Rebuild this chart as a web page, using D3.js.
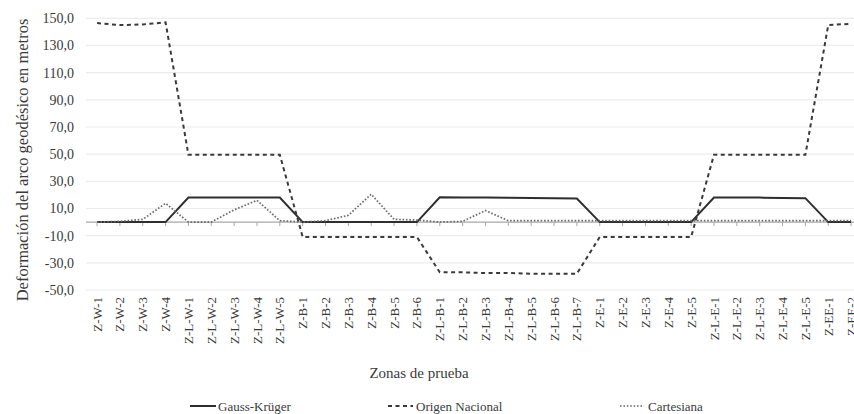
<!DOCTYPE html>
<html>
<head>
<meta charset="utf-8">
<script src="https://cdn.jsdelivr.net/npm/d3@7"></script>
<style>
  html, body { margin: 0; padding: 0; background: #fff; }
  svg { display: block; font-family: "Liberation Serif", "Times New Roman", serif; }
</style>
</head>
<body>
<div id="chart"></div>
<script>
// ---- Data ----
const categories = [
  "Z-W-1","Z-W-2","Z-W-3","Z-W-4",
  "Z-L-W-1","Z-L-W-2","Z-L-W-3","Z-L-W-4","Z-L-W-5",
  "Z-B-1","Z-B-2","Z-B-3","Z-B-4","Z-B-5","Z-B-6",
  "Z-L-B-1","Z-L-B-2","Z-L-B-3","Z-L-B-4","Z-L-B-5","Z-L-B-6","Z-L-B-7",
  "Z-E-1","Z-E-2","Z-E-3","Z-E-4","Z-E-5",
  "Z-L-E-1","Z-L-E-2","Z-L-E-3","Z-L-E-4","Z-L-E-5",
  "Z-EE-1","Z-EE-2"
];
const gaussKruger = [
  0, 0, 0, 0,
  18, 18, 18, 18, 18,
  0, 0, 0, 0, 0, 0,
  18.2, 18.1, 18, 17.9, 17.8, 17.5, 17.4,
  0, 0, 0, 0, 0,
  18, 18, 18, 17.8, 17.6,
  0, 0
];
const origenNacional = [
  146.5, 145, 145.5, 147,
  49.5, 49.5, 49.5, 49.5, 49.5,
  -11, -11, -11, -11, -11, -11,
  -37, -37, -37.5, -37.5, -38, -38, -38,
  -11, -11, -11, -11, -11,
  49.5, 49.5, 49.5, 49.5, 49.5,
  145, 146
];
const cartesiana = [
  0, 0.5, 2, 13.8,
  0, 0, 9, 16, 1,
  0, 1, 5, 20.5, 2, 1.5,
  0, 0.5, 8.5, 1, 1, 1, 1,
  1, 1, 1, 1, 1,
  1, 1, 1, 1, 1,
  1, 1
];
const yTicks = [150, 130, 110, 90, 70, 50, 30, 10, -10, -30, -50];
const seriesNames = ["Gauss-Krüger", "Origen Nacional", "Cartesiana"];

// ---- Layout ----
const W = 854, H = 414;
const svg = d3.select("#chart").append("svg").attr("width", W).attr("height", H);

const x = d3.scalePoint().domain(categories).range([85.6, 862.5]).padding(0.5);
const y = d3.scaleLinear().domain([-50, 150]).range([290, 18.3]);

const textColor = "#3a3a3a";

// gridlines
svg.append("g").selectAll("line").data(yTicks).join("line")
  .attr("x1", 86).attr("x2", W)
  .attr("y1", d => y(d)).attr("y2", d => y(d))
  .attr("stroke", "#ececec").attr("stroke-width", 1.2);

// y axis labels
const fmt = v => d3.format(".1f")(v).replace(".", ",").replace("−", "-");
svg.append("g").selectAll("text").data(yTicks).join("text")
  .attr("x", 74).attr("y", d => y(d)).attr("dy", "0.35em")
  .attr("text-anchor", "end").attr("font-size", 14).attr("fill", textColor)
  .text(d => fmt(d));

// y title
svg.append("text")
  .attr("transform", `translate(22,${(18 + 302) / 2}) rotate(-90)`)
  .attr("text-anchor", "middle").attr("dy", "0.35em")
  .attr("font-size", 16.5).attr("fill", textColor)
  .text("Deformación del arco geodésico  en metros");

// zero axis line
svg.append("line")
  .attr("x1", 86).attr("x2", W).attr("y1", y(0)).attr("y2", y(0))
  .attr("stroke", "#a8a8a8").attr("stroke-width", 1.2);

// category tick marks
svg.append("g").selectAll("line").data(categories).join("line")
  .attr("x1", d => x(d)).attr("x2", d => x(d))
  .attr("y1", y(0)).attr("y2", y(0) + 4)
  .attr("stroke", "#a8a8a8").attr("stroke-width", 1);

// x labels (rotated)
svg.append("g").selectAll("text").data(categories).join("text")
  .attr("transform", d => `translate(${x(d)},297) rotate(-90)`)
  .attr("text-anchor", "end").attr("dy", "0.35em")
  .attr("font-size", 13).attr("fill", textColor)
  .text(d => d);

// x title
svg.append("text")
  .attr("x", 419).attr("y", 373).attr("dy", "0.35em")
  .attr("text-anchor", "middle").attr("font-size", 15).attr("fill", textColor)
  .text("Zonas de prueba");

// series lines
const line = d3.line().x((d, i) => x(categories[i])).y(d => y(d));
const styles = [
  { data: gaussKruger, stroke: "#2e2e2e", width: 2, dash: null },
  { data: origenNacional, stroke: "#3a3a3a", width: 2, dash: "4,3.5" },
  { data: cartesiana, stroke: "#6a6a6a", width: 1.7, dash: "1.6,1.8" }
];
styles.forEach(s => {
  svg.append("path").datum(s.data)
    .attr("d", line).attr("fill", "none")
    .attr("stroke", s.stroke).attr("stroke-width", s.width)
    .attr("stroke-dasharray", s.dash);
});

// legend
const legendItems = [
  { name: seriesNames[0], x1: 190, x2: 216, tx: 218, s: styles[0] },
  { name: seriesNames[1], x1: 388, x2: 413, tx: 416, s: styles[1] },
  { name: seriesNames[2], x1: 620, x2: 644, tx: 648, s: styles[2] }
];
const lg = svg.append("g");
legendItems.forEach(it => {
  lg.append("line").attr("x1", it.x1).attr("x2", it.x2).attr("y1", 406).attr("y2", 406)
    .attr("stroke", it.s.stroke).attr("stroke-width", it.s.width)
    .attr("stroke-dasharray", it.s.dash);
  lg.append("text").attr("x", it.tx).attr("y", 406).attr("dy", "0.35em")
    .attr("font-size", 13).attr("fill", textColor).text(it.name);
});
</script>
</body>
</html>
